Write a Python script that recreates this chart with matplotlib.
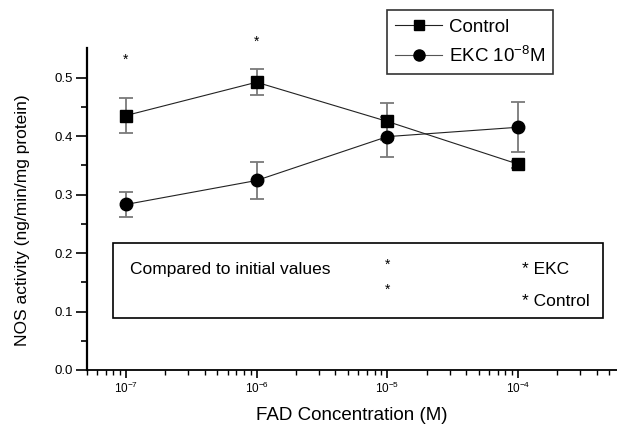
import matplotlib
matplotlib.use("Agg")
import matplotlib.pyplot as plt
from matplotlib.patches import Rectangle
from matplotlib.lines import Line2D

plt.rcParams['font.family'] = ['Liberation Sans', 'DejaVu Sans']
plt.rcParams['mathtext.fontset'] = 'custom'
plt.rcParams['mathtext.rm'] = 'Liberation Sans'
plt.rcParams['mathtext.it'] = 'Liberation Sans:italic'
plt.rcParams['mathtext.bf'] = 'Liberation Sans:bold'

# FAD concentration (M)
fad = [1e-7, 1e-6, 1e-5, 1e-4]

# NOS activity (ng/min/mg protein)
control = [0.435, 0.492, 0.425, 0.352]
control_err = [0.030, 0.022, 0.032, 0.006]
ekc = [0.283, 0.324, 0.399, 0.415]
ekc_err = [0.021, 0.031, 0.034, 0.043]

yticks = [0.0, 0.1, 0.2, 0.3, 0.4, 0.5]
labels = ['Control', 'EKC 10$^{-8}$M']

W, H = 617, 429
fig = plt.figure(figsize=(W / 100, H / 100), dpi=100)
ax = fig.add_axes([86.5 / W, 59 / H, 530.5 / W, 321.7 / H])

def series(y, err, marker, ms):
    eb = ax.errorbar(fad, y, yerr=err, fmt='-', color='#222222', lw=0.8,
                     marker=marker, ms=ms, mfc='black', mec='black',
                     ecolor='#7a7a7a', elinewidth=1.3, capsize=5,
                     capthick=1.3)
    for cap in eb[1]:
        cap.set_color('black')
    return eb

series(control, control_err, 's', 8)
series(ekc, ekc_err, 'o', 9)

ax.set_xscale('log')
ax.set_xlim(5e-8, 5.72e-4)
ax.set_ylim(0, 0.55)
ax.set_yticks(yticks)
ax.set_yticklabels(['%.1f' % v for v in yticks])
ax.set_yticks([0.05, 0.15, 0.25, 0.35, 0.45], minor=True)

for s in ['top', 'right']:
    ax.spines[s].set_visible(False)
ax.spines['left'].set_linewidth(1.6)
ax.spines['bottom'].set_linewidth(1.3)

ax.tick_params(axis='y', which='major', direction='out', length=8, width=1.2,
               labelsize=9.5, pad=2)
ax.tick_params(axis='y', which='minor', direction='out', length=4, width=1.2)
ax.tick_params(axis='x', which='major', direction='out', length=6, width=1.2,
               labelsize=8.5, pad=2)
ax.tick_params(axis='x', which='minor', direction='out', length=3.5, width=1.0)

ax.set_xlabel('FAD Concentration (M)', fontsize=13.5)
ax.set_ylabel('NOS activity (ng/min/mg protein)', fontsize=12.5)
ax.xaxis.set_label_coords(0.5, -0.115)
ax.yaxis.set_label_coords(-0.106, 0.466)

# significance marks above points
ax.text(1e-7, 0.531, '*', ha='center', va='center', fontsize=10)
ax.text(1e-6, 0.561, '*', ha='center', va='center', fontsize=10, clip_on=False)

# inset note box
ax.add_patch(Rectangle((8.0e-8, 0.0894), 4.47e-4 - 8.0e-8, 0.2166 - 0.0894,
                       fill=False, ec='black', lw=1.2))
ax.text(1.07e-7, 0.172, 'Compared to initial values', ha='left', va='center',
        fontsize=12.5)
ax.text(1e-5, 0.180, '*', ha='center', va='center', fontsize=10)
ax.text(1e-5, 0.137, '*', ha='center', va='center', fontsize=10)
ax.text(1.07e-4, 0.172, '* EKC', ha='left', va='center', fontsize=12.5)
ax.text(1.07e-4, 0.117, '* Control', ha='left', va='center', fontsize=12.5)

handles = [Line2D([], [], color='#222222', lw=0.8, marker='s', ms=7,
                  mfc='black', mec='black'),
           Line2D([], [], color='#555555', lw=0.8, marker='o', ms=8,
                  mfc='black', mec='black')]
leg = ax.legend(handles, labels, loc='upper left',
                bbox_to_anchor=(386.7 / W, 1 - 10 / H),
                bbox_transform=fig.transFigure, borderaxespad=0,
                fontsize=13.5, handlelength=2.5, handletextpad=0.35,
                borderpad=0.45, labelspacing=0.55, numpoints=1,
                fancybox=False, frameon=True)
leg.get_frame().set_edgecolor('black')
leg.get_frame().set_linewidth(1.2)

fig.savefig('out.png', dpi=100)
